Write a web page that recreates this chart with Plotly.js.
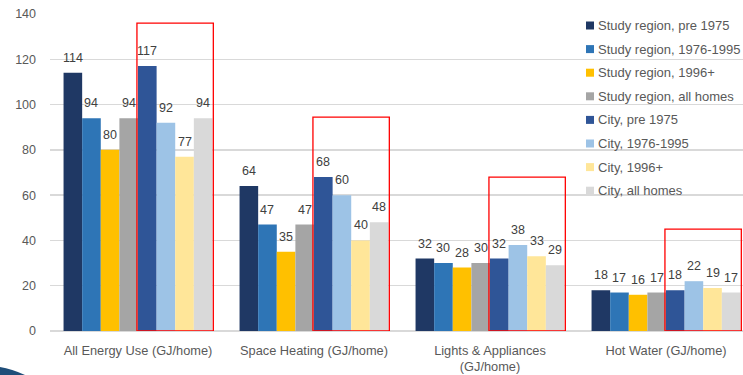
<!DOCTYPE html>
<html>
<head>
<meta charset="utf-8">
<script src="https://cdn.plot.ly/plotly-3.0.1.min.js"></script>
<style>html,body{margin:0;padding:0;background:#fff;}#chart{width:743px;height:375px;}</style>
</head>
<body>
<div id="chart"></div>
<script>
// ---- data ----
const categories = ["All Energy Use (GJ/home)", "Space Heating (GJ/home)", "Lights & Appliances<br>(GJ/home)", "Hot Water (GJ/home)"];
const seriesNames = ["Study region, pre 1975", "Study region, 1976-1995", "Study region, 1996+", "Study region, all homes",
                     "City, pre 1975", "City, 1976-1995", "City, 1996+", "City, all homes"];
const studyPre1975  = [114, 64, 32, 18];
const study1976     = [94, 47, 30, 17];
const study1996     = [80, 35, 28, 16];
const studyAll      = [94, 47, 30, 17];
const cityPre1975   = [117, 68, 32, 18];
const city1976      = [92, 60, 38, 22];
const city1996      = [77, 40, 33, 19];
const cityAll       = [94, 48, 29, 17];
const highlightTop  = [136, 94.5, 68, 45];
const yTicks = [0, 20, 40, 60, 80, 100, 120, 140];

// ---- styles ----
const colors = ["#1f3864", "#2e75b6", "#ffc000", "#a5a5a5", "#2f5597", "#9dc3e6", "#ffe699", "#d9d9d9"];
const seriesValues = [studyPre1975, study1976, study1996, studyAll, cityPre1975, city1976, city1996, cityAll];
const FONT = "Liberation Sans, Arial, sans-serif";

const traces = seriesValues.map((vals, i) => ({
  type: "bar",
  name: seriesNames[i],
  x: categories,
  y: vals,
  marker: {color: colors[i]},
  showlegend: false,
  hoverinfo: "name+y"
}));

// plot geometry (pixels)
const ML = 50, MR = 0, MT = 14, MB = 44, W = 743, H = 375;
const PW = W - ML - MR, PH = H - MT - MB;
const px2x = p => (p - ML) / PW;
const py2y = p => (H - MB - p) / PH;

const catWidth = 176;
const xMax = -0.5 + PW / catWidth;
const bargap = 0.154;
const barPx = catWidth * (1 - bargap) / seriesValues.length;

const shapes = [];
const annotations = [];

// value labels above bars
seriesValues.forEach((vals, s) => {
  vals.forEach((v, c) => {
    annotations.push({xref: "x", yref: "y", x: categories[c], y: v,
      xshift: (s - (seriesValues.length - 1) / 2) * barPx, yshift: 6,
      xanchor: "center", yanchor: "bottom", text: String(v), showarrow: false,
      font: {family: FONT, size: 12.5, color: "#404040"}});
  });
});

// highlight rectangles around city bars
highlightTop.forEach((top, i) => {
  shapes.push({type: "rect", xref: "x", yref: "y", x0: i - 0.006, x1: i + 0.428, y0: 0, y1: top,
    line: {color: "#ff0000", width: 1.3}, fillcolor: "rgba(0,0,0,0)", layer: "above"});
});

// manual legend
const legX = 586, legY0 = 25.5, legStep = 23.6;
seriesNames.forEach((n, i) => {
  const cy = legY0 + i * legStep;
  shapes.push({type: "rect", xref: "paper", yref: "paper",
    x0: px2x(legX), x1: px2x(legX + 8), y0: py2y(cy + 4), y1: py2y(cy - 4),
    fillcolor: colors[i], line: {width: 0}});
  annotations.push({xref: "paper", yref: "paper", x: px2x(legX + 10), y: py2y(cy),
    xanchor: "left", yanchor: "middle", text: n, showarrow: false,
    font: {family: FONT, size: 13, color: "#595959"}});
});

// decorative swoosh bottom-left
shapes.push({type: "path", xref: "paper", yref: "paper",
  path: `M ${px2x(0)},${py2y(367)} Q ${px2x(12)},${py2y(369)} ${px2x(25)},${py2y(375)} L ${px2x(0)},${py2y(375)} Z`,
  fillcolor: "#1f4e79", line: {width: 0}});

const layout = {
  width: W, height: H,
  margin: {l: ML, r: MR, t: MT, b: MB, pad: 0},
  paper_bgcolor: "#ffffff", plot_bgcolor: "#ffffff",
  barmode: "group", bargap: bargap, bargroupgap: 0,
  showlegend: false,
  xaxis: {
    type: "category", range: [-0.5, xMax], showgrid: false, zeroline: false, showline: false,
    ticks: "", ticklabelstandoff: 10,
    tickfont: {family: FONT, size: 12.8, color: "#595959"}
  },
  yaxis: {
    range: [0, 140], tickvals: yTicks, ticktext: yTicks.map(String),
    showgrid: true, gridcolor: "#d9d9d9", gridwidth: 1.5,
    zeroline: true, zerolinecolor: "#d9d9d9", zerolinewidth: 1.5,
    showline: false, ticks: "", ticklabelstandoff: 13,
    tickfont: {family: FONT, size: 12.5, color: "#595959"}
  },
  shapes: shapes,
  annotations: annotations,
  font: {family: FONT}
};

Plotly.newPlot("chart", traces, layout, {displayModeBar: false, staticPlot: true});
</script>
</body>
</html>
